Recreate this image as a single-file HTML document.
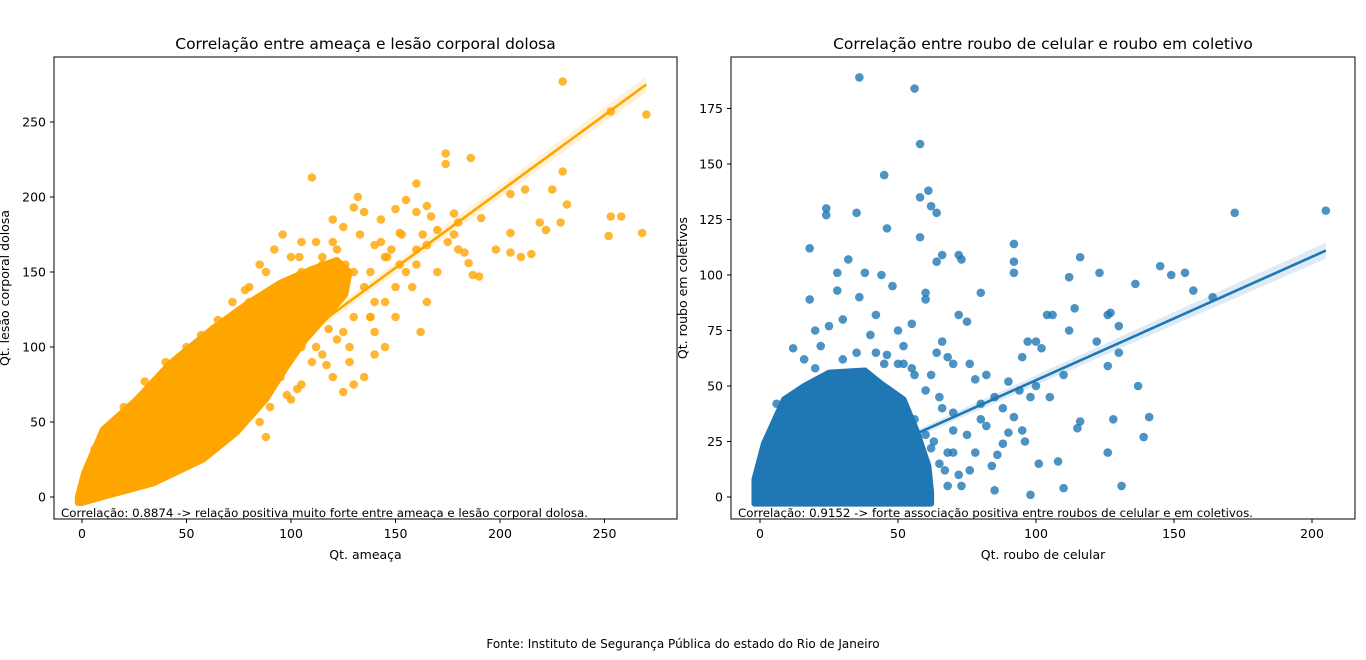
<!DOCTYPE html>
<html><head><meta charset="utf-8"><style>
body{margin:0;background:#fff;width:1366px;height:655px;overflow:hidden;font-family:"Liberation Sans","DejaVu Sans",sans-serif}
text{font-family:"DejaVu Sans","Liberation Sans",sans-serif;fill:#000}
</style></head><body>
<svg id="svg" width="1366" height="655">
<g id="L"></g>
<g id="R"></g>
<text x="683" y="648" text-anchor="middle" font-size="12">Fonte: Instituto de Segurança Pública do estado do Rio de Janeiro</text>
</svg>
<script>
// Left chart data
const leftXTicks=[0,50,100,150,200,250];
const leftYTicks=[0,50,100,150,200,250];
const leftBandX=[-2,1,10,26,42,63,79,95,110,122,128,126,118,107,98,88,74,58,34,10,0,-2];
const leftBandY=[0,16,45,65,89,113,129,143,152,158,150,135,122,105,87,65,43,25,9,0,-4,-4];
const leftPtsX=[230,253,270,230,225,205,252,253,258,268,232,229,222,215,210,205,205,198,190,187,185,183,191,178,186,174,174,170,165,167,163,165,160,160,155,150,153,148,145,143,140,138,135,132,130,125,120,120,115,118,110,112,105,100,96,100,105,110,115,125,130,130,140,140,150,145,158,162,160,150,135,130,125,128,140,120,115,110,100,105,95,90,85,95,100,110,120,125,135,145,155,170,165,160,175,180,178,143,152,180,212,219,122,112,118,105,108,138,128,88,82,78,88,85,92,80,98,102,108,96,104,112,115,122,126,133,72,80,65,57,50,40,30,20,6,98,103,117,138,146,152];
const leftPtsY=[277,257,255,217,205,202,174,187,187,176,195,183,178,162,160,176,163,165,147,148,156,163,186,189,226,229,222,178,194,187,175,168,209,190,198,192,175,165,160,170,168,150,190,200,193,180,185,170,160,150,213,170,170,160,175,140,150,140,135,140,150,120,130,110,120,100,140,110,155,140,80,75,70,90,95,80,95,90,65,75,80,60,50,100,120,120,125,110,140,130,150,150,130,165,170,165,175,185,176,183,205,183,105,100,112,100,130,120,100,40,65,138,150,155,165,130,110,130,145,90,160,145,155,165,155,175,130,140,118,108,100,90,77,60,32,68,72,88,120,160,155];
const leftLine=[[0,0],[270,275]];
// Right chart data
const rightXTicks=[0,50,100,150,200];
const rightYTicks=[0,25,50,75,100,125,150,175];
const rightBandX=[-2,-2,1.4,8.7,16,25,38,44,52,57,61,62,62,-2];
const rightBandY=[-3,8,24,44,50,56,57,51,44,29,14,2,-3,-3];
const rightPtsX=[36,56,58,61,58,62,64,35,24,24,45,46,58,60,60,64,66,72,73,80,92,92,92,112,116,123,126,127,130,122,126,130,136,145,149,154,157,164,172,205,137,139,141,128,126,131,114,112,115,116,108,110,101,104,106,100,97,102,95,96,98,94,92,90,88,86,84,85,82,80,78,76,75,72,70,68,66,64,62,60,55,50,48,44,42,40,38,36,32,28,28,25,20,18,18,12,16,22,30,35,45,52,56,65,70,75,78,82,88,70,72,68,65,60,55,50,73,67,62,76,80,85,90,100,105,110,98,95,60,56,8,12,6,20,30,42,50,55,66,70,63,68,58,52,46];
const rightPtsY=[189,184,159,138,135,131,128,128,130,127,145,121,117,92,89,106,109,109,107,92,114,106,101,99,108,101,82,83,77,70,59,65,96,104,100,101,93,90,128,129,50,27,36,35,20,5,85,75,31,34,16,4,15,82,82,70,70,67,63,25,1,48,36,29,24,19,14,3,55,42,53,60,79,82,60,63,70,65,55,48,78,75,95,100,82,73,101,90,107,101,93,77,75,112,89,67,62,68,80,65,60,68,55,45,38,28,20,32,40,20,10,5,15,10,5,2,5,12,22,12,35,45,52,50,45,55,45,30,28,35,30,38,42,58,62,65,60,58,40,30,25,20,15,60,64];
const rightLine=[[0,-3],[205,111]];

const NS="http://www.w3.org/2000/svg";
function mk(tag,attrs,parent){const e=document.createElementNS(NS,tag);for(const k in attrs)e.setAttribute(k,attrs[k]);parent.appendChild(e);return e;}
function draw(g,cfg){
  const sx=v=>cfg.x0+(v-cfg.xmin)*cfg.kx, sy=v=>cfg.y0-(v-cfg.ymin)*cfg.ky;
  const clip=mk('clipPath',{id:cfg.id+'clip'},g);
  mk('rect',{x:cfg.L,y:cfg.T,width:cfg.W,height:cfg.H},clip);
  const pg=mk('g',{'clip-path':'url(#'+cfg.id+'clip)'},g);
  let d='';cfg.bx.forEach((x,i)=>{d+=(i?'L':'M')+sx(x)+' '+sy(cfg.by[i]);});
  const band=mk('path',{d:d+'Z',fill:cfg.color,stroke:cfg.color,'stroke-width':6,'stroke-linejoin':'round'},pg);
  
  
  cfg.px.forEach((x,i)=>{
    const c=mk('circle',{cx:sx(x),cy:sy(cfg.py[i]),r:4.3,fill:cfg.color,'fill-opacity':0.8},pg);
    
    
  });
  const [a,b]=cfg.line;
  const ci=mk('path',{d:`M${sx(a[0])} ${sy(a[1])-2}L${sx(b[0])} ${sy(b[1])-8}L${sx(b[0])} ${sy(b[1])+8}L${sx(a[0])} ${sy(a[1])+2}Z`,fill:cfg.color,'fill-opacity':0.15},pg);
  
  
  const ln=mk('line',{x1:sx(a[0]),y1:sy(a[1]),x2:sx(b[0]),y2:sy(b[1]),stroke:cfg.lineColor,'stroke-width':2.6},pg);
  
  
  const fr=mk('rect',{x:cfg.L,y:cfg.T,width:cfg.W,height:cfg.H,fill:'none',stroke:'#000','stroke-width':1},g);
  
  
  cfg.xt.forEach(v=>{
    mk('line',{x1:sx(v),x2:sx(v),y1:cfg.T+cfg.H,y2:cfg.T+cfg.H+4,stroke:'#000'},g);
    const t=mk('text',{x:sx(v),y:cfg.T+cfg.H+19,'text-anchor':'middle','font-size':12.5},g);t.textContent=v;
    
    
  });
  cfg.yt.forEach(v=>{
    mk('line',{x1:cfg.L-4,x2:cfg.L,y1:sy(v),y2:sy(v),stroke:'#000'},g);
    const t=mk('text',{x:cfg.L-8,y:sy(v)+4.5,'text-anchor':'end','font-size':12.5},g);t.textContent=v;
    
    
  });
  const ti=mk('text',{x:cfg.L+cfg.W/2,y:49,'text-anchor':'middle','font-size':15.5},g);ti.textContent=cfg.title;
  
  
  const xl=mk('text',{x:cfg.L+cfg.W/2,y:559,'text-anchor':'middle','font-size':12.5},g);xl.textContent=cfg.xlabel;
  
  
  const yl=mk('text',{x:0,y:0,'text-anchor':'middle','font-size':12.5,transform:`translate(${cfg.ylx},${cfg.T+cfg.H/2}) rotate(-90)`},g);yl.textContent=cfg.ylabel;
  
  
  const an=mk('text',{x:cfg.L+7,y:517,'font-size':11.8},g);an.textContent=cfg.note;
  
  
}
draw(document.getElementById('L'),{id:'l',L:54,T:57,W:623,H:462,x0:82,xmin:0,kx:2.09,y0:497,ymin:0,ky:1.5,
 bx:leftBandX,by:leftBandY,px:leftPtsX,py:leftPtsY,line:leftLine,color:'#FFA500',lineColor:'#FFA500',
 xt:leftXTicks,yt:leftYTicks,title:'Correlação entre ameaça e lesão corporal dolosa',xlabel:'Qt. ameaça',ylabel:'Qt. lesão corporal dolosa',ylx:9,
 note:'Correlação: 0.8874 -> relação positiva muito forte entre ameaça e lesão corporal dolosa.'});
draw(document.getElementById('R'),{id:'r',L:731,T:57,W:624,H:462,x0:760,xmin:0,kx:2.76,y0:497,ymin:0,ky:2.22,
 bx:rightBandX,by:rightBandY,px:rightPtsX,py:rightPtsY,line:rightLine,color:'#1f77b4',lineColor:'#1f77b4',
 xt:rightXTicks,yt:rightYTicks,title:'Correlação entre roubo de celular e roubo em coletivo',xlabel:'Qt. roubo de celular',ylabel:'Qt. roubo em coletivos',ylx:687,
 note:'Correlação: 0.9152 -> forte associação positiva entre roubos de celular e em coletivos.'});
</script>
</body></html>
